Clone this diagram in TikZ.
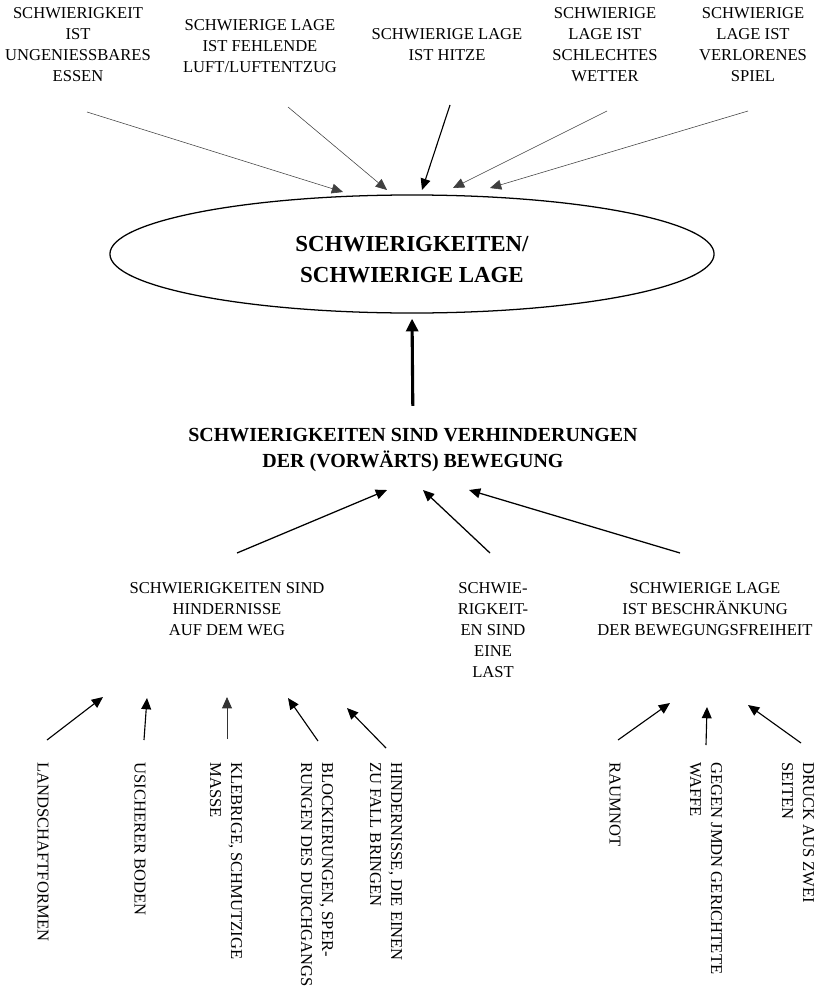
\documentclass[tikz,border=0pt]{standalone}
\usepackage{fontspec}
\setmainfont{Liberation Serif}
\usetikzlibrary{arrows.meta, shapes.geometric}

\begin{document}
\begin{tikzpicture}[x=0.025cm, y=-0.025cm, >={Triangle[length=8pt, width=7pt]},
    lbl/.style={align=center, inner sep=0pt, font=\fontsize{11.8}{14.9}\selectfont},
    vlbl/.style={lbl, align=left, rotate=-90, anchor=west},
    boldlbl/.style 2 args={align=center, inner sep=0pt, font=\fontsize{#1}{#2}\selectfont\bfseries},
    thinarr/.style={->, line width=0.4pt, black!75},
    arr/.style={->, line width=0.8pt}]
  \useasboundingbox (0,0) rectangle (820,992);

  % source domains on top
  \node[lbl] (essen) at (78,45) {SCHWIERIGKEIT\\IST\\UNGENIESSBARES\\ESSEN};
  \node[lbl] (luft) at (260,46) {SCHWIERIGE LAGE\\IST FEHLENDE\\LUFT/LUFTENTZUG};
  \node[lbl] (hitze) at (447,45) {SCHWIERIGE LAGE\\IST HITZE};
  \node[lbl] (wetter) at (605,45) {SCHWIERIGE\\LAGE IST\\SCHLECHTES\\WETTER};
  \node[lbl] (spiel) at (753,45) {SCHWIERIGE\\LAGE IST\\VERLORENES\\SPIEL};

  % the ellipse
  \node[draw, ellipse, line width=0.9pt, minimum width=15.1cm, minimum height=2.95cm, inner sep=0pt] (main) at (412,254) {};
  \node[boldlbl={16.3}{22}] (maintxt) at (412,260) {SCHWIERIGKEITEN/\\SCHWIERIGE LAGE};

  \coordinate (essen-s) at (87,112);   \coordinate (essen-t) at (343,192);
  \coordinate (luft-s) at (288,107);   \coordinate (luft-t) at (387,190);
  \coordinate (hitze-s) at (450,105);  \coordinate (hitze-t) at (422,190);
  \coordinate (wetter-s) at (607,111); \coordinate (wetter-t) at (453,188);
  \coordinate (spiel-s) at (748,111);  \coordinate (spiel-t) at (490,188);
  \foreach \n in {essen,luft,wetter,spiel}
    \draw[thinarr] (\n-s) -- (\n-t);
  \draw[arr] (hitze-s) -- (hitze-t);

  % middle level
  \node[boldlbl={14.2}{18.5}] (verh) at (413,450) {SCHWIERIGKEITEN SIND VERHINDERUNGEN\\DER (VORWÄRTS) BEWEGUNG};
  \draw[->, line width=2.2pt, >={Triangle[length=9pt, width=8.5pt]},
    shorten <=0.55cm, shorten >=0.125cm] (verh.north) -- (main.south);

  \node[lbl] (hind) at (227,609) {SCHWIERIGKEITEN SIND\\HINDERNISSE\\AUF DEM WEG};
  \node[lbl] (last) at (493,630) {SCHWIE-\\RIGKEIT-\\EN SIND\\EINE\\LAST};
  \node[lbl] (frei) at (705,609) {SCHWIERIGE LAGE\\IST BESCHRÄNKUNG\\DER BEWEGUNGSFREIHEIT};

  \coordinate (hind-s) at (237,553); \coordinate (hind-t) at (387,490);
  \coordinate (last-s) at (490,553); \coordinate (last-t) at (423,490);
  \coordinate (frei-s) at (680,553); \coordinate (frei-t) at (469,490);
  \foreach \n in {hind,last,frei}
    \draw[->, line width=0.9pt] (\n-s) -- (\n-t);

  % rotated labels at the bottom
  \node[vlbl] (land) at (43,762) {LANDSCHAFTFORMEN};
  \node[vlbl] (boden) at (140,762) {USICHERER BODEN};
  \node[vlbl] (masse) at (226,762) {KLEBRIGE, SCHMUTZIGE\\MASSE};
  \node[vlbl] (sperr) at (317,762) {BLOCKIERUNGEN, SPER-\\RUNGEN DES DURCHGANGS};
  \node[vlbl] (fall) at (386,762) {HINDERNISSE, DIE EINEN\\ZU FALL BRINGEN};
  \node[vlbl] (raum) at (615,762) {RAUMNOT};
  \node[vlbl] (waffe) at (706,762) {GEGEN JMDN GERICHTETE\\WAFFE};
  \node[vlbl] (druck) at (798,762) {DRUCK AUS ZWEI\\SEITEN};

  \coordinate (land-s) at (47,740);  \coordinate (land-t) at (103,697);
  \coordinate (boden-s) at (144,740); \coordinate (boden-t) at (147,698);
  \coordinate (masse-s) at (227,739); \coordinate (masse-t) at (227,697);
  \coordinate (sperr-s) at (318,741); \coordinate (sperr-t) at (288,698);
  \coordinate (fall-s) at (386,748);  \coordinate (fall-t) at (347,708);
  \coordinate (raum-s) at (618,740);  \coordinate (raum-t) at (670,703);
  \coordinate (waffe-s) at (706,745); \coordinate (waffe-t) at (707,707);
  \coordinate (druck-s) at (801,743); \coordinate (druck-t) at (748,705);
  \foreach \n in {land,boden,sperr,fall,raum,waffe,druck}
    \draw[arr] (\n-s) -- (\n-t);
  \draw[->, line width=0.6pt, black!80] (masse-s) -- (masse-t);
\end{tikzpicture}
\end{document}
